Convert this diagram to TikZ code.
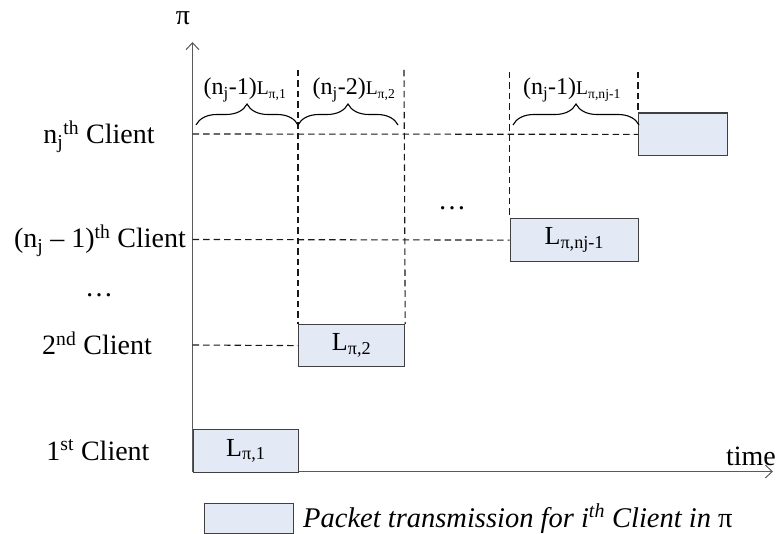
\documentclass[tikz,border=0pt]{standalone}
\usepackage{fontspec}
\setmainfont{Liberation Serif}
\usetikzlibrary{arrows.meta,decorations.pathreplacing}
\definecolor{pktfill}{HTML}{E4EAF5}
\definecolor{axisgray}{HTML}{5A5A5A}
\definecolor{edgegray}{HTML}{404040}
\begin{document}
\begin{tikzpicture}[x=1pt,y=-1pt,
  pkt/.style={draw=edgegray, fill=pktfill, line width=1.2pt, inner sep=0pt,
    anchor=north west, font=\fontsize{26}{30}\selectfont},
  guide/.style={dash pattern=on 6.5pt off 4pt, line width=1.1pt, draw=black!90},
  axis/.style={draw=axisgray, line width=1.4pt,
    -{Straight Barb[length=7pt,width=13pt,line width=1pt]}},
  rowlbl/.style={font=\fontsize{28}{32}\selectfont, inner sep=0pt, anchor=base},
  span/.style={decorate, decoration={brace, amplitude=21pt}, line width=1.1pt},
  spanlbl/.style={font=\fontsize{24}{28}\selectfont, inner sep=0pt, anchor=base}
]
\useasboundingbox (0,0) rectangle (776,534);

% axes
\coordinate (O) at (192.5,471.5);
\coordinate (ytop) at (192.5,42);
\coordinate (xend) at (773,471.5);
\draw[axis] (O) -- (ytop);
\draw[axis] (O) -- (xend);
\node[rowlbl] (pilbl) at (183,25) {π};
\node[rowlbl] (timelbl) at (751,465) {time};

% packet transmissions
\node[pkt, minimum width=105.5pt, minimum height=42.5pt] (p1) at (192.5,429) {L\textsubscript{π,1}};
\node[pkt, minimum width=106pt, minimum height=42pt] (p2) at (298,324) {L\textsubscript{π,2}};
\node[pkt, minimum width=128.5pt, minimum height=43pt] (pm) at (509.5,218) {L\textsubscript{π,nj-1}};
\node[pkt, minimum width=89pt, minimum height=42.5pt] (pn) at (638,112.5) {};

% client rows
\node[rowlbl] (rn) at (99,144) {n\textsubscript{j}\textsuperscript{th} Client};
\node[rowlbl] (rm) at (100,248) {(n\textsubscript{j} – 1)\textsuperscript{th} Client};
\node[rowlbl] (rdots) at (99,297) {\ldots};
\node[rowlbl] (r2) at (97,355) {2\textsuperscript{nd} Client};
\node[rowlbl] (r1) at (98,460) {1\textsuperscript{st} Client};
\node[rowlbl] (mdots) at (452,210) {\ldots};

\coordinate (yn) at (192.5,134);
\coordinate (ym) at (192.5,239.5);
\coordinate (y2) at (192.5,345);
\draw[guide] (yn) -- (pn.west);
\draw[guide] (ym) -- (pm.west);
\draw[guide] (y2) -- (p2.west);

% slot boundaries
\coordinate (t1) at (298,70);
\coordinate (t2) at (404,70);
\coordinate (t3) at (509.5,72);
\coordinate (t4) at (638,72);
\draw[guide] (t1) -- (p2.north west);
\draw[guide] (t2) -- (p2.north east);
\draw[guide] (t3) -- (pm.north west);
\draw[guide] (t4) -- (pn.north west);

% waiting times
\coordinate (b1) at (196,125);
\coordinate (b2) at (298,125);
\coordinate (b3) at (398,125);
\coordinate (b4) at (513,125);
\coordinate (b5) at (639,125);
\draw[span] (b1) -- (b2);
\draw[span] (b2) -- (b3);
\draw[span] (b4) -- (b5);
\node[spanlbl] (w1) at (245,95) {(n\textsubscript{j}-1){\fontsize{19.5}{22}\selectfont L\textsubscript{π,1}}};
\node[spanlbl] (w2) at (354,95) {(n\textsubscript{j}-2){\fontsize{19.5}{22}\selectfont L\textsubscript{π,2}}};
\node[spanlbl] (w3) at (572,95) {(n\textsubscript{j}-1){\fontsize{19.5}{22}\selectfont L\textsubscript{π,nj-1}}};

% legend
\node[pkt, minimum width=89pt, minimum height=30pt] (legbox) at (204,503) {};
\node[font=\fontsize{28.5}{32}\selectfont, inner sep=0pt, anchor=base west] (legtxt) at (303,527)
  {\textit{Packet transmission for i\textsuperscript{th} Client in} π};
\end{tikzpicture}
\end{document}
